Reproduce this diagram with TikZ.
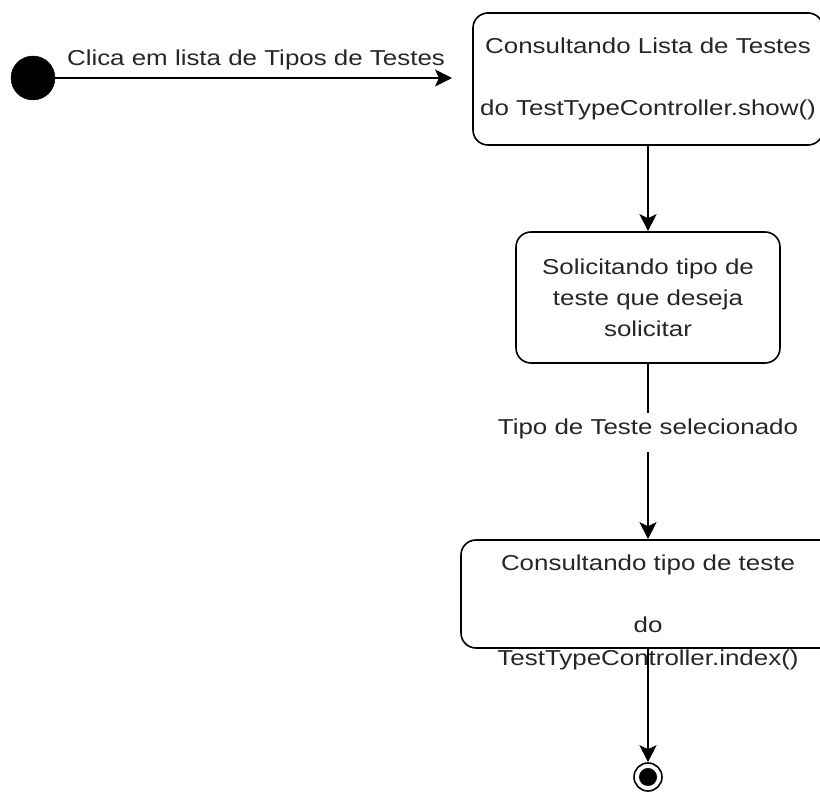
\documentclass[tikz,border=0pt]{standalone}
\usepackage{fontspec}
\setmainfont{Liberation Sans}[FakeStretch=1.2]
\usetikzlibrary{arrows.meta}
\begin{document}
\begin{tikzpicture}[x=1pt,y=-1pt,
  stbox/.style={draw, line width=1.6pt, rounded corners=15pt, inner sep=0pt},
  lbl/.style={font=\fontsize{21.6}{31}\selectfont, align=center, inner sep=0pt, text=black!85},
  flow/.style={line width=1.6pt, -{Stealth[length=17pt,width=17pt,inset=4pt]}},
  plain/.style={line width=1.6pt}]
\useasboundingbox (0,0) rectangle (820,799);
\clip (0,0) rectangle (820,799);
% initial state
\node[circle, draw, fill=black, minimum size=44pt, inner sep=0pt] (init) at (33,78) {};
\coordinate (a1) at (452,78);
\node[lbl] (t0) at (256,60) {Clica em lista de Tipos de Testes};
% box 1
\node[stbox, lbl, minimum width=350pt, minimum height=132pt] (s1) at (648,79)
  {Consultando Lista de Testes\\[31pt]do TestTypeController.show()};
% box 2
\node[stbox, lbl, minimum width=264pt, minimum height=131pt] (s2) at (648,297.5)
  {Solicitando tipo de\\teste que deseja\\solicitar};
% edge label
\node[lbl] (e) at (648,429) {Tipo de Teste selecionado};
\coordinate (g1) at (648,413);
\coordinate (g2) at (648,452);
% box 3
\node[stbox, minimum width=374pt, minimum height=108pt] (s3) at (648,594) {};
\node[lbl] (t3) at (648,612) {Consultando tipo de teste\\[31pt]do\\[2pt]TestTypeController.index()};
% final state
\node[circle, draw, line width=1.6pt, minimum size=28pt, inner sep=0pt] (fin) at (648,777) {};
\node[circle, fill=black, minimum size=18pt, inner sep=0pt] (finin) at (fin.center) {};
% connectors
\draw[flow] (init.east) -- (a1);
\draw[flow] (s1.south) -- (s2.north);
\draw[plain] (s2.south) -- (g1);
\draw[flow] (g2) -- (s3.north);
\draw[flow] (s3.south) -- (fin.north);
\end{tikzpicture}
\end{document}
